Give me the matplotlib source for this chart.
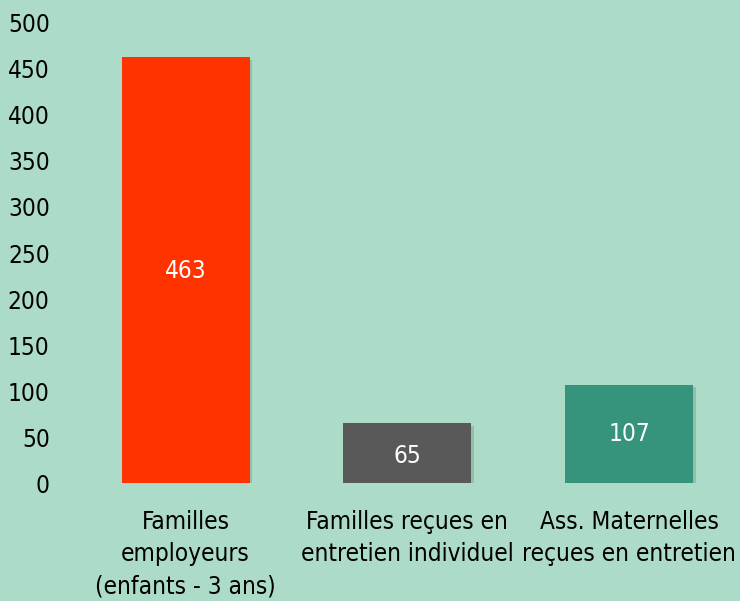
import matplotlib
matplotlib.use('Agg')
from matplotlib import pyplot as plt
import matplotlib.patheffects as pe

categories = ['Familles\nemployeurs\n(enfants - 3 ans)',
              'Familles reçues en\nentretien individuel',
              'Ass. Maternelles\nreçues en entretien']
values = [463, 65, 107]
colors = ['#ff3300', '#595959', '#36937c']
yticks = [0, 50, 100, 150, 200, 250, 300, 350, 400, 450, 500]

plt.rcParams['font.family'] = ['DejaVu Sans']
plt.rcParams['font.stretch'] = 'condensed'
bg = '#acdcc8'
fs = 17.5

fig = plt.figure(figsize=(7.4, 6.01), dpi=100, facecolor=bg)
ax = fig.add_axes([0.101, 0.196, 0.899, 0.766])
ax.set_facecolor(bg)

x = range(len(values))
bars = ax.bar(x, values, width=0.577, color=colors, zorder=3)
for b in bars:
    b.set_path_effects([pe.SimplePatchShadow(offset=(2, -2), shadow_rgbFace='#5a7a6c', alpha=0.3),
                        pe.Normal()])

ax.text(0, 230, '463', ha='center', va='center', color='white', fontsize=fs, zorder=4)
ax.text(1, values[1] / 2 - 3, '65', ha='center', va='center', color='white', fontsize=fs, zorder=4)
ax.text(2, values[2] / 2, '107', ha='center', va='center', color='white', fontsize=fs, zorder=4)

ax.set_xlim(-0.5, 2.5)
ax.set_ylim(0, 500)
ax.set_yticks(yticks)
ax.set_yticklabels([str(t) for t in yticks], fontsize=fs)
ax.set_xticks(list(x))
ax.set_xticklabels(categories, fontsize=fs, linespacing=1.45)
ax.tick_params(length=0, pad=19)
ax.tick_params(axis='y', pad=18)
for s in ax.spines.values():
    s.set_visible(False)

fig.savefig('out.png', dpi=100, facecolor=bg)
